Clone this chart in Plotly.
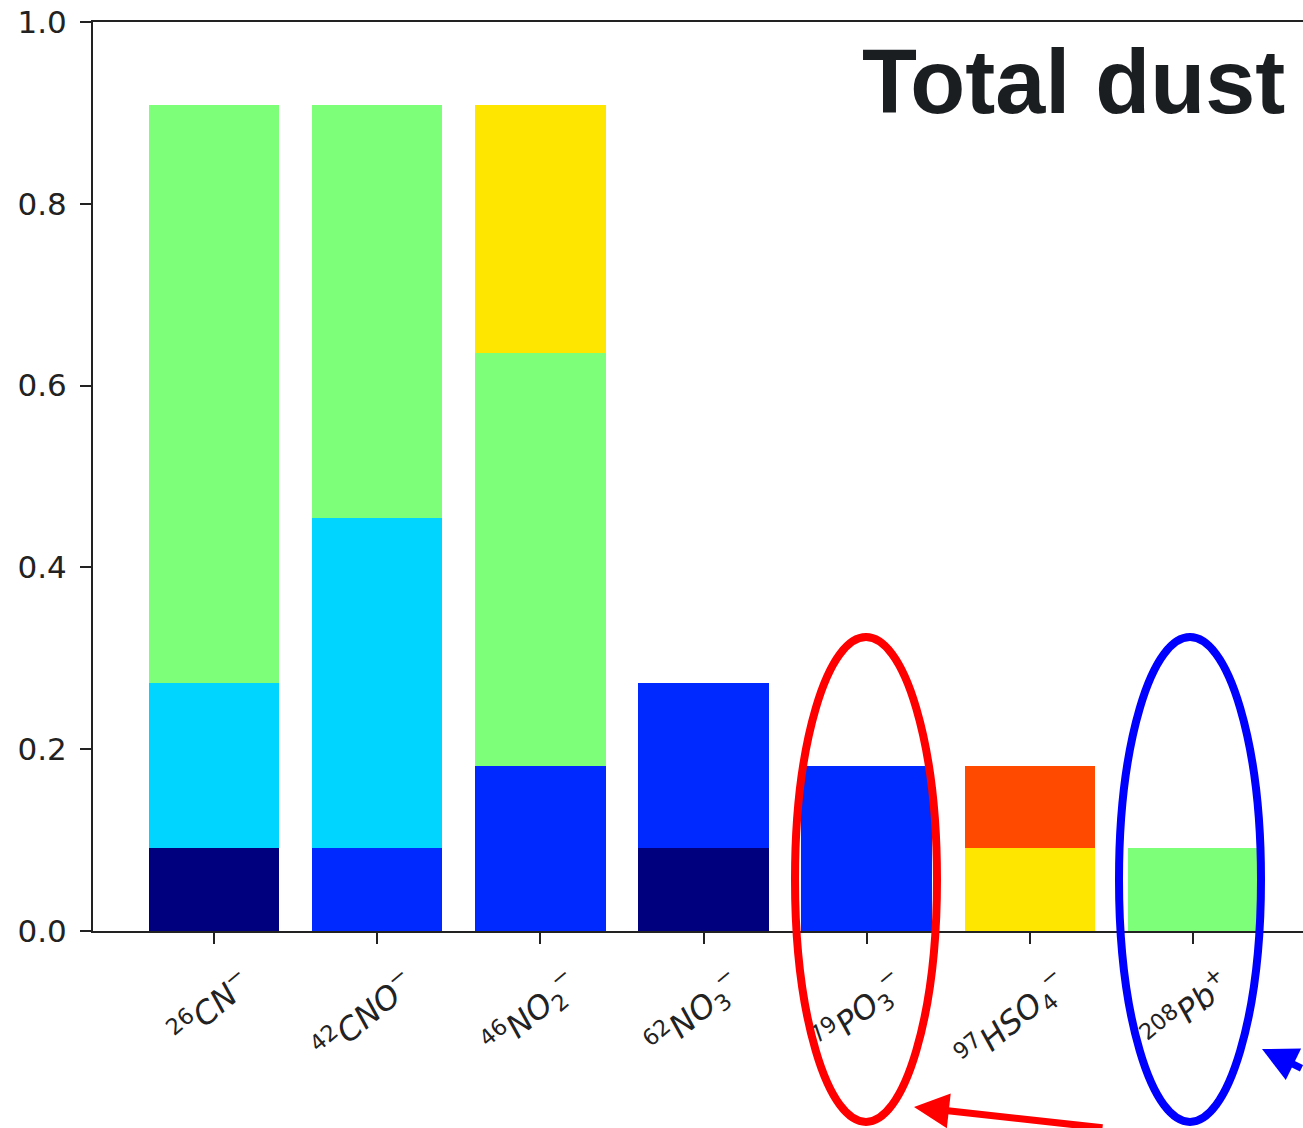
import plotly.graph_objects as go

# Ion categories (mass number as superscript, charge after the formula)
ions = [
    "<sup>26</sup><i>CN</i><sup>−</sup>",
    "<sup>42</sup><i>CNO</i><sup>−</sup>",
    "<sup>46</sup><i>NO</i><sub>2</sub><sup>−</sup>",
    "<sup>62</sup><i>NO</i><sub>3</sub><sup>−</sup>",
    "<sup>79</sup><i>PO</i><sub>3</sub><sup>−</sup>",
    "<sup>97</sup><i>HSO</i><sub>4</sub><sup>−</sup>",
    "<sup>208</sup><i>Pb</i><sup>+</sup>",
]

# Stacked fractions per colour group (bottom to top)
navy_vals   = [0.0909, 0.0,    0.0,    0.0909, 0.0,    0.0,    0.0]
blue_vals   = [0.0,    0.0909, 0.1818, 0.1818, 0.1818, 0.0,    0.0]
cyan_vals   = [0.1818, 0.3636, 0.0,    0.0,    0.0,    0.0,    0.0]
green_vals  = [0.6364, 0.4545, 0.4545, 0.0,    0.0,    0.0,    0.0909]
yellow_vals = [0.0,    0.0,    0.2727, 0.0,    0.0,    0.0909, 0.0]
orange_vals = [0.0,    0.0,    0.0,    0.0,    0.0,    0.0909, 0.0]

y_ticks = [0.0, 0.2, 0.4, 0.6, 0.8, 1.0]
y_tick_text = ["0.0", "0.2", "0.4", "0.6", "0.8", "1.0"]

series = [
    (navy_vals, "#00007f"),
    (blue_vals, "#0029ff"),
    (cyan_vals, "#00d5ff"),
    (green_vals, "#7dff7a"),
    (yellow_vals, "#ffe600"),
    (orange_vals, "#ff4a00"),
]

W, H = 1303, 1128
L, R, T, B = 93, 0, 22, 197
PW, PH = W - L - R, H - T - B


def px(x):
    return (x - L) / PW


def py(y):
    return (H - B - y) / PH


fig = go.Figure()
for vals, col in series:
    fig.add_trace(go.Bar(
        x=list(range(len(ions))), y=vals,
        marker=dict(color=col, line=dict(width=0)),
        showlegend=False,
    ))

fig.update_layout(
    width=W, height=H,
    margin=dict(l=L, r=R, t=T, b=B, pad=0),
    barmode="stack", bargap=0.2,
    plot_bgcolor="white", paper_bgcolor="white",
    font=dict(family="DejaVu Sans", size=30, color="#222222"),
)

fig.update_xaxes(
    range=[-0.7415, 6.674],
    tickmode="array", tickvals=list(range(len(ions))), ticktext=ions,
    tickangle=-40, ticks="outside", ticklen=11, tickwidth=2, tickcolor="#222",
    ticklabelshift=30, ticklabelstandoff=8,
    showline=True, linecolor="#222", linewidth=2, mirror=True,
    showgrid=False, zeroline=False,
    tickfont=dict(family="DejaVu Sans", size=32, color="#222"),
)
fig.update_yaxes(
    range=[0, 1.0],
    tickmode="array", tickvals=y_ticks, ticktext=y_tick_text,
    ticks="outside", ticklen=11, tickwidth=2, tickcolor="#222",
    ticklabelstandoff=7,
    showline=True, linecolor="#222", linewidth=2, mirror=False,
    showgrid=False, zeroline=False,
    tickfont=dict(family="DejaVu Sans", size=31, color="#222"),
)

shapes = [
    # bottom strip trimming the rotated labels
    dict(type="rect", xref="paper", yref="paper",
         x0=-0.2, x1=1.2, y0=py(1200), y1=py(1060),
         fillcolor="white", line=dict(width=0), layer="above"),
    # red ring around the PO3- bar
    dict(type="circle", xref="paper", yref="paper",
         x0=px(795), x1=px(937), y0=py(1122), y1=py(637),
         line=dict(color="#ff0000", width=8), layer="above"),
    # blue ring around the Pb+ bar
    dict(type="circle", xref="paper", yref="paper",
         x0=px(1119), x1=px(1261), y0=py(1122), y1=py(637),
         line=dict(color="#0000ff", width=8), layer="above"),
]
fig.update_layout(shapes=shapes)

annotations = [
    dict(text="<b>Total dust</b>", xref="paper", yref="paper",
         x=px(860), y=py(82), xanchor="left", yanchor="middle",
         showarrow=False,
         font=dict(family="Liberation Sans", size=90, color="#1b1e21")),
    dict(text="", xref="paper", yref="paper", x=px(914), y=py(1107),
         showarrow=True, arrowhead=2, arrowsize=1.0, arrowwidth=7,
         arrowcolor="#ff0000", ax=190, ay=32, standoff=0),
    dict(text="", xref="paper", yref="paper", x=px(1262), y=py(1049),
         showarrow=True, arrowhead=2, arrowsize=1.0, arrowwidth=7,
         arrowcolor="#0000ff", ax=110, ay=20, standoff=0),
]
fig.update_layout(annotations=annotations)

fig.write_html("out.html")
